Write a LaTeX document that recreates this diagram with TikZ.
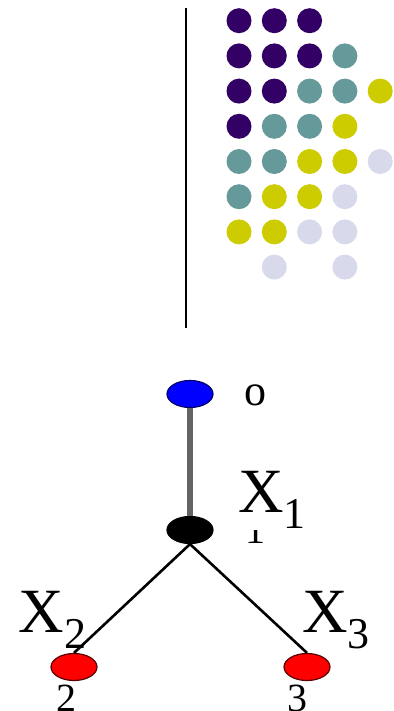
\documentclass[tikz,border=0pt]{standalone}
\usepackage{fontspec}
\setmainfont{Liberation Serif}
\usetikzlibrary{shapes.geometric}
\definecolor{cP}{HTML}{330066}
\definecolor{cT}{HTML}{669999}
\definecolor{cY}{HTML}{CCCC00}
\definecolor{cL}{HTML}{D9D9EC}
\tikzset{
  dot/.style={circle,inner sep=0pt,minimum size=25pt},
  vnode/.style={ellipse,inner sep=0pt,minimum width=46pt,minimum height=27pt,line width=1.2pt},
  big/.style={anchor=base west,inner sep=0pt,font=\fontsize{63}{63}\selectfont},
  sub/.style={anchor=base west,inner sep=0pt,font=\fontsize{44}{44}\selectfont},
  lab/.style={anchor=base,inner sep=0pt,font=\fontsize{40}{40}\selectfont},
}
\begin{document}
\begin{tikzpicture}[x=1pt,y=-1pt]
\useasboundingbox (0,0) rectangle (393,711);
\clip (0,0) rectangle (393,711);
% vertical line
\coordinate (vt) at (186,8);
\coordinate (vb) at (186,328);
\draw[line width=1.5pt] (vt) -- (vb);
% dot grid
\def\dotrow#1#2{%
  \foreach \c/\i in {#2} {%
      \node[dot,fill=\c] (d#1-\i) at ({239+35.3*\i},{20.7+35.2*#1}) {};
  }}
\dotrow{0}{cP/0,cP/1,cP/2}
\dotrow{1}{cP/0,cP/1,cP/2,cT/3}
\dotrow{2}{cP/0,cP/1,cT/2,cT/3,cY/4}
\dotrow{3}{cP/0,cT/1,cT/2,cY/3}
\dotrow{4}{cT/0,cT/1,cY/2,cY/3,cL/4}
\dotrow{5}{cT/0,cY/1,cY/2,cL/3}
\dotrow{6}{cY/0,cY/1,cL/2,cL/3}
\dotrow{7}{cL/1,cL/3}
% tree
\node[vnode,fill=blue,draw={rgb,255:red,0;green,0;blue,110}] (n0) at (190,394) {};
\node[vnode,fill=black,draw=black] (n1) at (190,530) {};
\node[vnode,fill=red,draw={rgb,255:red,90;green,0;blue,0}] (n2) at (74,667) {};
\node[vnode,fill=red,draw={rgb,255:red,90;green,0;blue,0}] (n3) at (307,667) {};
\draw[line width=6pt,color={rgb,255:red,100;green,100;blue,100}] (n0.south) -- (n1.north);
\draw[line width=2.6pt] (n1.south) -- (n2.north);
\draw[line width=2.6pt] (n1.south) -- (n3.north);
% labels
\node[big] (x1) at (238,512) {X};
\node[sub] (s1) at (283,528) {1};
\node[big] (x2) at (18,632) {X};
\node[sub] (s2) at (64,648) {2};
\node[big] (x3) at (302,632) {X};
\node[sub] (s3) at (347,648) {3};
\node[anchor=base,inner sep=0pt,font=\fontsize{44}{44}\selectfont] (o0) at (255,405) {o};
\begin{scope}
\clip (230,530) rectangle (280,560);
\node[lab] (l1) at (255,543) {1};
\end{scope}
\node[lab] (l2) at (66,711) {2};
\node[lab] (l3) at (297,711) {3};
\end{tikzpicture}
\end{document}
